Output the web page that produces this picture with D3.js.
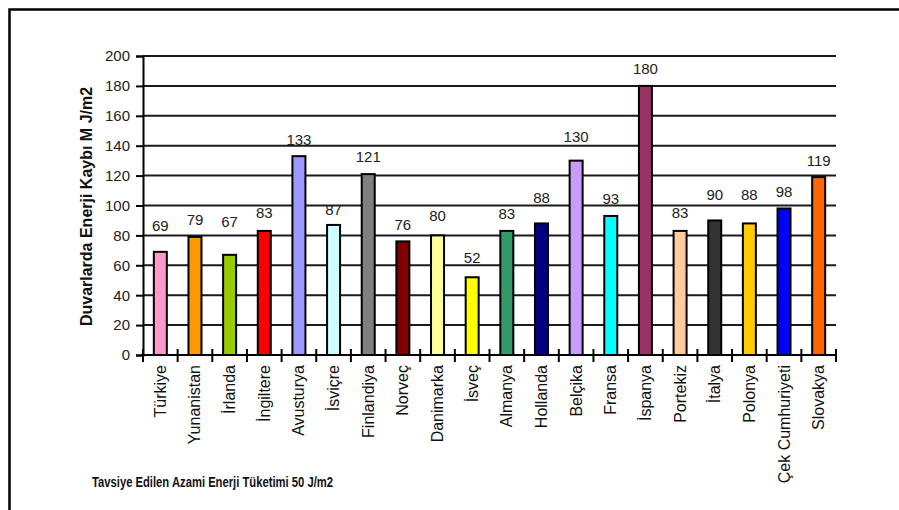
<!DOCTYPE html>
<html>
<head>
<meta charset="utf-8">
<script src="https://cdn.jsdelivr.net/npm/d3@7"></script>
<style>
  html, body { margin: 0; padding: 0; background: #fff; }
  svg { display: block; font-family: "Liberation Sans", Arial, sans-serif; }
</style>
</head>
<body>
<svg id="chart" width="899" height="510"></svg>
<script>
// Wall heat loss per country (M J/m2)
const countries = ["Türkiye", "Yunanistan", "İrlanda", "İngiltere", "Avusturya", "İsviçre",
  "Finlandiya", "Norveç", "Danimarka", "İsveç", "Almanya", "Hollanda", "Belçika", "Fransa",
  "İspanya", "Portekiz", "İtalya", "Polonya", "Çek Cumhuriyeti", "Slovakya"];
const losses = [69, 79, 67, 83, 133, 87, 121, 76, 80, 52, 83, 88, 130, 93, 180, 83, 90, 88, 98, 119];
const barColors = ["#FF99CC", "#FF9900", "#99CC00", "#FF0000", "#9999FF", "#CCFFFF",
  "#808080", "#800000", "#FFFF99", "#FFFF00", "#339966", "#000080", "#CC99FF", "#00FFFF",
  "#993366", "#FFCC99", "#333333", "#FFCC00", "#0000FF", "#FF6600"];
const yTickValues = [0, 20, 40, 60, 80, 100, 120, 140, 160, 180, 200];
// how far each value label sits above its bar (px)
const labelLift = [21, 12, 28, 13, 11, 10, 12, 11, 14, 14, 12, 20, 19, 12, 12, 13, 20, 23, 11, 11];

const yTitle = "Duvarlarda Enerji Kaybı M J/m2";
const note = "Tavsiye Edilen Azami Enerji Tüketimi 50 J/m2";

const svg = d3.select("#chart");
const plot = { left: 143, right: 836, top: 56, bottom: 355 };

// frame
svg.append("path")
  .attr("d", "M9.5,510 V9.5 H899")
  .attr("fill", "none").attr("stroke", "#000").attr("stroke-width", 2.5);

const x = d3.scaleBand().domain(countries).range([plot.left, plot.right]).padding(0);
const y = d3.scaleLinear().domain([0, 200]).range([plot.bottom, plot.top]);

// gridlines
svg.append("g").selectAll("line")
  .data(yTickValues.filter(v => v > 0))
  .join("line")
  .attr("x1", plot.left).attr("x2", plot.right)
  .attr("y1", d => y(d)).attr("y2", d => y(d))
  .attr("stroke", "#1a1a1a").attr("stroke-width", 2);

// y axis
const yAxis = svg.append("g")
  .attr("transform", `translate(${plot.left},0)`)
  .call(d3.axisLeft(y).tickValues(yTickValues).tickSize(7).tickPadding(6));
yAxis.select(".domain").attr("stroke", "#000").attr("stroke-width", 2);
yAxis.selectAll(".tick line").attr("stroke", "#000").attr("stroke-width", 2);
yAxis.selectAll(".tick text")
  .attr("font-size", 15).attr("fill", "#222")
  .attr("font-family", "'Liberation Sans', Arial, sans-serif");

// bars
const barW = 13;
svg.append("g").selectAll("rect")
  .data(countries)
  .join("rect")
  .attr("x", d => x(d) + x.bandwidth() / 2 - barW / 2)
  .attr("width", barW)
  .attr("y", (d, i) => y(losses[i]))
  .attr("height", (d, i) => y(0) - y(losses[i]))
  .attr("fill", (d, i) => barColors[i])
  .attr("stroke", "#000").attr("stroke-width", 2);

// x axis line and crossing ticks at category boundaries
svg.append("line")
  .attr("x1", plot.left - 2).attr("x2", plot.right + 1)
  .attr("y1", y(0)).attr("y2", y(0))
  .attr("stroke", "#000").attr("stroke-width", 2);
const bounds = countries.map(c => x(c)).concat([x(countries[countries.length - 1]) + x.bandwidth()]);
svg.append("g").selectAll("line")
  .data(bounds)
  .join("line")
  .attr("x1", d => d).attr("x2", d => d)
  .attr("y1", y(0) - 6).attr("y2", y(0) + 7)
  .attr("stroke", "#000").attr("stroke-width", 2);

// value labels
svg.append("g").selectAll("text")
  .data(countries)
  .join("text")
  .attr("x", d => x(d) + x.bandwidth() / 2)
  .attr("y", (d, i) => y(losses[i]) - labelLift[i])
  .attr("text-anchor", "middle")
  .attr("font-size", 15).attr("fill", "#222")
  .text((d, i) => losses[i]);

// category labels
svg.append("g").selectAll("text")
  .data(countries)
  .join("text")
  .attr("transform", d => `translate(${x(d) + x.bandwidth() / 2 + 5.5},${y(0) + 10}) rotate(-90)`)
  .attr("text-anchor", "end")
  .attr("font-size", 16).attr("fill", "#111")
  .text(d => d);

// y axis title
svg.append("text")
  .attr("transform", `translate(92,${(plot.top + plot.bottom) / 2 + 1}) rotate(-90)`)
  .attr("text-anchor", "middle")
  .attr("font-size", 16).attr("font-weight", "bold").attr("fill", "#111")
  .text(yTitle);

// recommendation note
svg.append("text")
  .attr("x", 92).attr("y", 487)
  .attr("font-size", 15).attr("font-weight", "bold").attr("fill", "#111")
  .attr("textLength", 241).attr("lengthAdjust", "spacingAndGlyphs")
  .text(note);
</script>
</body>
</html>
